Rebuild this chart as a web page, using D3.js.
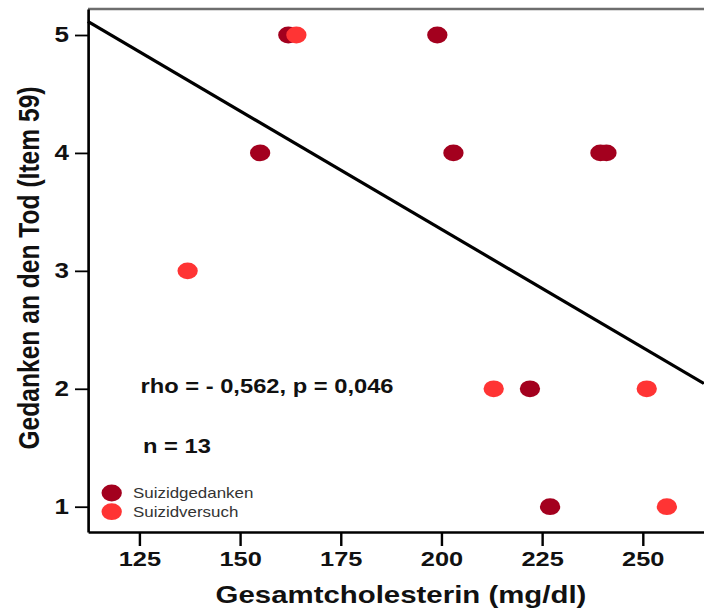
<!DOCTYPE html>
<html><head><meta charset="utf-8">
<script src="https://cdn.jsdelivr.net/npm/d3@7"></script>
<style>
html,body{margin:0;padding:0;background:#fff;}
svg{display:block;font-family:"Liberation Sans",Arial,sans-serif;}
</style></head>
<body>
<svg id="chart"></svg>
<script>
// ---- data ----
const gedankenX = [162, 199, 155, 203, 239.5, 241, 222, 227];
const gedankenY = [5, 5, 4, 4, 4, 4, 2, 1];
const versuchX = [164, 137, 213, 251, 256];
const versuchY = [5, 3, 2, 2, 1];
const xTicks = [125, 150, 175, 200, 225, 250];
const yTicks = [1, 2, 3, 4, 5];
const fitIntercept = 7.367;
const fitSlope = -0.02007;
const seriesNames = ["Suizidgedanken", "Suizidversuch"];
const seriesColors = ["#a3001e", "#ff3434"];
const statText = "rho = - 0,562, p = 0,046";
const nText = "n = 13";
const xTitle = "Gesamtcholesterin (mg/dl)";
const yTitle = "Gedanken an den Tod (Item 59)";

// ---- layout (picture is stretched horizontally) ----
const W = 704, H = 615, S = 1.21;
const VW = W / S;
const svg = d3.select("#chart").attr("width", W).attr("height", H)
  .attr("viewBox", `0 0 ${VW} ${H}`).attr("preserveAspectRatio", "none");

const px = v => v / S; // pixel x -> viewBox x
const x = d3.scaleLinear().domain([112.26, 265.22]).range([px(88), px(704)]);
const y = d3.scaleLinear().domain([0.7855, 5.2205]).range([532, 9]);

// top frame line
svg.append("line").attr("x1", px(88)).attr("x2", px(704)).attr("y1", 9).attr("y2", 9)
  .attr("stroke", "#6e6e6e").attr("stroke-width", 2.5);

// axes
const xAxis = d3.axisBottom(x).tickValues(xTicks).tickSizeInner(14).tickSizeOuter(0).tickPadding(5);
const gx = svg.append("g").attr("transform", "translate(0,532)").call(xAxis);
gx.select(".domain").attr("stroke", "#000").attr("stroke-width", 2.6);
gx.selectAll(".tick line").attr("stroke", "#000").attr("stroke-width", 2);
gx.selectAll(".tick text").attr("font-size", 21).attr("font-weight", "bold").attr("fill", "#111")
  .attr("font-family", "Liberation Sans, Arial, sans-serif");

const yAxis = d3.axisLeft(y).tickValues(yTicks).tickSizeInner(px(13)).tickSizeOuter(0).tickPadding(px(6)).tickFormat(d3.format("d"));
const gy = svg.append("g").attr("transform", `translate(${px(88)},0)`).call(yAxis);
gy.select(".domain").attr("stroke", "#000").attr("stroke-width", 2.2);
gy.selectAll(".tick line").attr("stroke", "#000").attr("stroke-width", 1.8);
gy.selectAll(".tick text").attr("font-size", 21.5).attr("font-weight", "bold").attr("fill", "#111")
  .attr("font-family", "Liberation Sans, Arial, sans-serif");

// regression line
const fitX = x.domain();
svg.append("line")
  .attr("x1", x(fitX[0])).attr("y1", y(fitIntercept + fitSlope * fitX[0]))
  .attr("x2", x(fitX[1])).attr("y2", y(fitIntercept + fitSlope * fitX[1]))
  .attr("stroke", "#000").attr("stroke-width", 3);

// points
const r = 8.4;
svg.append("g").selectAll("circle").data(gedankenX.map((v, i) => [v, gedankenY[i]]))
  .join("circle").attr("cx", d => x(d[0])).attr("cy", d => y(d[1])).attr("r", r)
  .attr("fill", seriesColors[0]);
svg.append("g").selectAll("circle").data(versuchX.map((v, i) => [v, versuchY[i]]))
  .join("circle").attr("cx", d => x(d[0])).attr("cy", d => y(d[1])).attr("r", r)
  .attr("fill", seriesColors[1]);

// stats text
svg.append("text").attr("x", px(140.5)).attr("y", 393).attr("font-size", 19.6).attr("font-weight", "bold")
  .attr("fill", "#111").text(statText);
svg.append("text").attr("x", px(143)).attr("y", 453).attr("font-size", 19.6).attr("font-weight", "bold")
  .attr("fill", "#111").text(nText);

// legend
const leg = svg.append("g");
seriesNames.forEach((nm, i) => {
  leg.append("circle").attr("cx", px(111.7)).attr("cy", 493 + i * 18.7).attr("r", 8.4).attr("fill", seriesColors[i]);
  leg.append("text").attr("x", px(133)).attr("y", 498.5 + i * 18.5).attr("font-size", 14)
    .attr("fill", "#333").text(nm);
});

// axis titles
svg.append("text").attr("x", px(401)).attr("y", 603).attr("text-anchor", "middle")
  .attr("font-size", 24.3).attr("font-weight", "bold").attr("fill", "#111").text(xTitle);
svg.append("text").attr("transform", `translate(${px(39)},268) rotate(-90)`).attr("text-anchor", "middle")
  .attr("font-size", 24.6).attr("font-weight", "bold").attr("fill", "#111").text(yTitle);
</script>
</body></html>
